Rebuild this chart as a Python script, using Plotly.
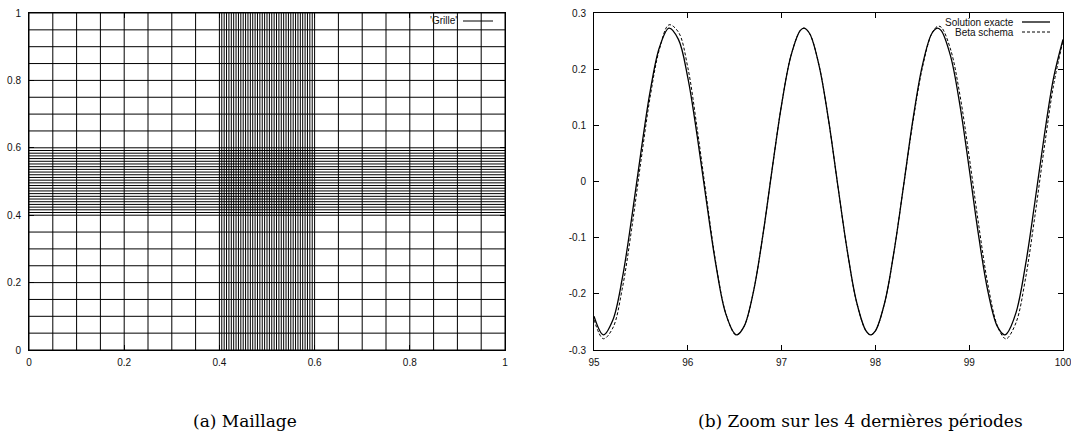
import plotly.graph_objects as go

# ---------------- Data ----------------
# Left panel: mesh line positions (x = constant lines, y = constant lines)
grid_x_coarse_left = [0.0, 0.05, 0.1, 0.15, 0.2, 0.25, 0.3, 0.35]
grid_x_fine = [0.400, 0.405, 0.410, 0.415, 0.420, 0.425, 0.430, 0.435, 0.440, 0.445,
               0.450, 0.455, 0.460, 0.465, 0.470, 0.475, 0.480, 0.485, 0.490, 0.495,
               0.500, 0.505, 0.510, 0.515, 0.520, 0.525, 0.530, 0.535, 0.540, 0.545,
               0.550, 0.555, 0.560, 0.565, 0.570, 0.575, 0.580, 0.585, 0.590, 0.595,
               0.600]
grid_x_coarse_right = [0.65, 0.7, 0.75, 0.8, 0.85, 0.9, 0.95, 1.0]

grid_y_coarse_low = [0.0, 0.05, 0.1, 0.15, 0.2, 0.25, 0.3, 0.35]
grid_y_fine = [0.400, 0.408, 0.416, 0.424, 0.432, 0.440, 0.448, 0.456, 0.464, 0.472,
               0.480, 0.488, 0.496, 0.504, 0.512, 0.520, 0.528, 0.536, 0.544, 0.552,
               0.560, 0.568, 0.576, 0.584, 0.592, 0.600]
grid_y_coarse_high = [0.65, 0.7, 0.75, 0.8, 0.85, 0.9, 0.95, 1.0]

grid_label = "'Grille'"

# Right panel: last 4 periods
t_values = [95.0, 95.1, 95.2, 95.3, 95.4, 95.5, 95.6, 95.7, 95.8, 95.9,
            96.0, 96.1, 96.2, 96.3, 96.4, 96.5, 96.525, 96.6, 96.7, 96.8, 96.9,
            97.0, 97.1, 97.2, 97.24, 97.3, 97.4, 97.5, 97.6, 97.7, 97.8, 97.9, 97.95,
            98.0, 98.1, 98.2, 98.3, 98.4, 98.5, 98.6, 98.66, 98.7, 98.8, 98.9,
            99.0, 99.1, 99.2, 99.3, 99.375, 99.4, 99.5, 99.6, 99.7, 99.8, 99.9,
            100.0]
exact_values = [-0.240, -0.273, -0.247, -0.174, -0.067, 0.052, 0.162, 0.240, 0.273, 0.253,
                0.185, 0.081, -0.037, -0.149, -0.233, -0.271, -0.273, -0.258, -0.196, -0.096, 0.023,
                0.137, 0.224, 0.269, 0.273, 0.263, 0.206, 0.110, -0.008, -0.123, -0.215, -0.266, -0.273,
                -0.266, -0.215, -0.123, -0.008, 0.110, 0.206, 0.263, 0.273, 0.269, 0.224, 0.137,
                0.023, -0.096, -0.196, -0.258, -0.273, -0.271, -0.233, -0.149, -0.037, 0.081, 0.185,
                0.253]
beta_values = [-0.246, -0.280, -0.261, -0.192, -0.086, 0.036, 0.152, 0.237, 0.279, 0.266,
               0.203, 0.094, -0.029, -0.146, -0.232, -0.272, -0.273, -0.258, -0.196, -0.096, 0.023,
               0.137, 0.224, 0.269, 0.273, 0.263, 0.206, 0.110, -0.008, -0.123, -0.215, -0.266, -0.273,
               -0.266, -0.215, -0.123, -0.008, 0.106, 0.202, 0.263, 0.276, 0.275, 0.236, 0.155,
               0.044, -0.076, -0.184, -0.257, -0.279, -0.280, -0.251, -0.173, -0.062, 0.060, 0.172,
               0.250]
series_names = ["Solution exacte", "Beta schema"]

left_ticks = [0, 0.2, 0.4, 0.6, 0.8, 1]
left_ticktext = ["0", "0.2", "0.4", "0.6", "0.8", "1"]
right_xticks = [95, 96, 97, 98, 99, 100]
right_yticks = [-0.3, -0.2, -0.1, 0, 0.1, 0.2, 0.3]
right_yticktext = ["-0.3", "-0.2", "-0.1", "0", "0.1", "0.2", "0.3"]

captions = ["(a) Maillage", "(b) Zoom sur les 4 dernières périodes"]

# ---------------- Figure ----------------
W, H = 1071, 443
fig = go.Figure()

xs_all = grid_x_coarse_left + grid_x_fine + grid_x_coarse_right
ys_all = grid_y_coarse_low + grid_y_fine + grid_y_coarse_high
gx, gy = [], []
for xv in xs_all:
    gx += [xv, xv, None]
    gy += [0, 1, None]
for yv in ys_all:
    gx += [0, 1, None]
    gy += [yv, yv, None]

fig.add_trace(go.Scatter(x=gx, y=gy, mode="lines", line=dict(color="black", width=1),
                         name=grid_label, showlegend=False, hoverinfo="skip",
                         xaxis="x", yaxis="y"))

fig.add_trace(go.Scatter(x=t_values, y=exact_values, mode="lines",
                         line=dict(color="black", width=1.3, shape="spline", smoothing=1.0),
                         name=series_names[0], showlegend=False, xaxis="x2", yaxis="y2"))
fig.add_trace(go.Scatter(x=t_values, y=beta_values, mode="lines",
                         line=dict(color="black", width=1, dash="3px,2px", shape="spline", smoothing=1.0),
                         name=series_names[1], showlegend=False, xaxis="x2", yaxis="y2"))

tick_font = dict(family="Liberation Sans, Arial, sans-serif", size=10, color="#111")

def px(x):
    return x / W

def py(y):
    return 1 - y / H

axis_common = dict(showgrid=False, zeroline=False, showline=True, linecolor="black",
                   linewidth=1, mirror="ticks", ticks="inside", ticklen=5,
                   tickcolor="black", tickwidth=1, tickfont=tick_font, automargin=False,
                   ticklabeloverflow="allow")

fig.update_layout(
    width=W, height=H,
    margin=dict(l=0, r=0, t=0, b=0),
    paper_bgcolor="white", plot_bgcolor="white",
    showlegend=False,
    xaxis=dict(domain=[px(29), px(505)], range=[0, 1], tickvals=left_ticks,
               ticktext=left_ticktext, anchor="y", ticklabelstandoff=3, **axis_common),
    yaxis=dict(domain=[py(350), py(13)], range=[0, 1], tickvals=left_ticks,
               ticktext=left_ticktext, anchor="x", ticklabelstandoff=5, **axis_common),
    xaxis2=dict(domain=[px(594), px(1063)], range=[95, 100], tickvals=right_xticks,
                anchor="y2", ticklabelstandoff=3, **axis_common),
    yaxis2=dict(domain=[py(350), py(13)], range=[-0.3, 0.3], tickvals=right_yticks,
                ticktext=right_yticktext, anchor="x2", ticklabelstandoff=5, **axis_common),
)

# Legends (gnuplot style: text right-aligned, sample on the right)
leg_font = dict(family="Liberation Sans, Arial, sans-serif", size=10, color="#111")
fig.add_annotation(x=px(459), y=py(21), xref="paper", yref="paper", text=grid_label,
                   showarrow=False, xanchor="right", yanchor="middle", font=leg_font)
fig.add_shape(type="line", xref="paper", yref="paper", x0=px(463), x1=px(493),
              y0=py(21), y1=py(21), line=dict(color="black", width=1))

fig.add_annotation(x=px(1016), y=py(22), xref="paper", yref="paper", text=series_names[0],
                   showarrow=False, xanchor="right", yanchor="middle", font=leg_font)
fig.add_shape(type="line", xref="paper", yref="paper", x0=px(1022), x1=px(1050),
              y0=py(22), y1=py(22), line=dict(color="black", width=1.3))
fig.add_annotation(x=px(1016), y=py(32), xref="paper", yref="paper", text=series_names[1],
                   showarrow=False, xanchor="right", yanchor="middle", font=leg_font)
fig.add_shape(type="line", xref="paper", yref="paper", x0=px(1022), x1=px(1050),
              y0=py(32), y1=py(32), line=dict(color="black", width=1, dash="3px,2px"))

# Captions
cap_font = dict(family="DejaVu Serif, Liberation Serif, serif", size=17, color="black")
fig.add_annotation(x=px(245), y=py(421), xref="paper", yref="paper", text=captions[0],
                   showarrow=False, xanchor="center", yanchor="middle", font=cap_font)
fig.add_annotation(x=px(860), y=py(421), xref="paper", yref="paper", text=captions[1],
                   showarrow=False, xanchor="center", yanchor="middle", font=cap_font)

fig.write_html("out.html", config={"displayModeBar": False},
               post_script="document.body.style.margin='0';document.body.style.overflow='hidden';")
